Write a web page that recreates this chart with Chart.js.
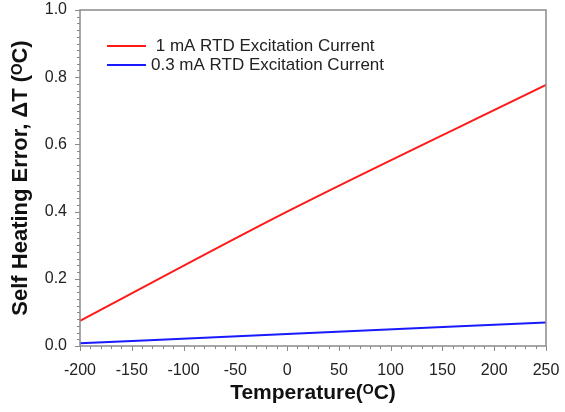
<!DOCTYPE html>
<html>
<head>
<meta charset="utf-8">
<script src="https://cdn.jsdelivr.net/npm/chart.js@4"></script>
<style>
  html, body { margin: 0; padding: 0; background: #fff; }
  #wrap { width: 565px; height: 412px; }
</style>
</head>
<body>
<div id="wrap"><canvas id="rtdChart" width="565" height="412"></canvas></div>
<script>
// values
const temps = [-200, 0, 250];
const err1mA = [0.075, 0.40, 0.777];
const err03mA = [0.008, 0.036, 0.070];
const seriesLabels = [' 1 mA RTD Excitation Current', '0.3 mA RTD Excitation Current'];
const seriesColors = ['#ff1a1a', '#1a1aff'];

const font = "'Liberation Sans', Arial, sans-serif";

// axis frame, tick marks (major + minor) and the legend box
const framePlugin = {
  id: 'frame',
  afterDraw(chart) {
    const ctx = chart.ctx;
    const a = chart.chartArea;
    const xs = chart.scales.x, ys = chart.scales.y;
    ctx.save();
    ctx.strokeStyle = '#8a8a8a';
    ctx.lineWidth = 1.5;
    ctx.strokeRect(a.left, a.top, a.right - a.left, a.bottom - a.top);

    ctx.lineWidth = 1;
    ctx.beginPath();
    for (let v = -200; v <= 250; v += 10) {
      const px = Math.round(xs.getPixelForValue(v)) + 0.5;
      const len = v % 50 === 0 ? 5 : 3;
      ctx.moveTo(px, a.bottom);
      ctx.lineTo(px, a.bottom + len);
    }
    for (let i = 0; i <= 50; i++) {
      const v = i * 0.02;
      const py = Math.round(ys.getPixelForValue(v)) + 0.5;
      const len = i % 10 === 0 ? 5 : 3;
      ctx.moveTo(a.left, py);
      ctx.lineTo(a.left - len, py);
    }
    ctx.stroke();

    // legend
    ctx.font = '17px ' + font;
    ctx.textBaseline = 'middle';
    ctx.fillStyle = '#222';
    chart.data.datasets.forEach((ds, i) => {
      const y = 46 + i * 19;
      ctx.strokeStyle = ds.borderColor;
      ctx.lineWidth = 2;
      ctx.beginPath();
      ctx.moveTo(107, y);
      ctx.lineTo(146, y);
      ctx.stroke();
      ctx.fillText(ds.label, 151, y);
    });
    ctx.restore();
  }
};

new Chart(document.getElementById('rtdChart'), {
  type: 'line',
  data: {
    labels: temps,
    datasets: [
      {
        label: seriesLabels[0],
        data: temps.map((t, i) => ({ x: t, y: err1mA[i] })),
        borderColor: seriesColors[0],
        borderWidth: 2,
        pointRadius: 0,
        cubicInterpolationMode: 'monotone',
        fill: false
      },
      {
        label: seriesLabels[1],
        data: temps.map((t, i) => ({ x: t, y: err03mA[i] })),
        borderColor: seriesColors[1],
        borderWidth: 2,
        pointRadius: 0,
        cubicInterpolationMode: 'monotone',
        fill: false
      }
    ]
  },
  options: {
    responsive: false,
    animation: false,
    layout: { padding: { top: 10, right: 19, left: 0, bottom: 0 } },
    plugins: {
      legend: { display: false },
      tooltip: { enabled: false }
    },
    scales: {
      x: {
        type: 'linear',
        min: -200,
        max: 250,
        border: { display: false },
        grid: { display: false },
        ticks: {
          stepSize: 50,
          color: '#222',
          padding: 7,
          font: { family: font, size: 16 }
        },
        title: {
          display: true,
          text: 'Temperature(ᴼC)',
          color: '#111',
          padding: { top: 0, bottom: 6 },
          font: { family: font, size: 21, weight: 'bold' }
        },
        afterFit(s) {
          s.height = 66;
          s.paddingLeft = 0;
          s.paddingRight = 0;
        }
      },
      y: {
        min: 0,
        max: 1.0,
        border: { display: false },
        grid: { display: false },
        ticks: {
          stepSize: 0.2,
          color: '#222',
          padding: 5,
          font: { family: font, size: 16 },
          callback: v => v.toFixed(1)
        },
        title: {
          display: true,
          text: 'Self Heating Error, ΔT (ᴼC)',
          color: '#111',
          padding: { top: 8, bottom: 0 },
          font: { family: font, size: 22, weight: 'bold' }
        },
        afterFit(s) {
          s.width = 80;
          s.paddingTop = 0;
          s.paddingBottom = 0;
        }
      }
    }
  },
  plugins: [framePlugin]
});
</script>
</body>
</html>
